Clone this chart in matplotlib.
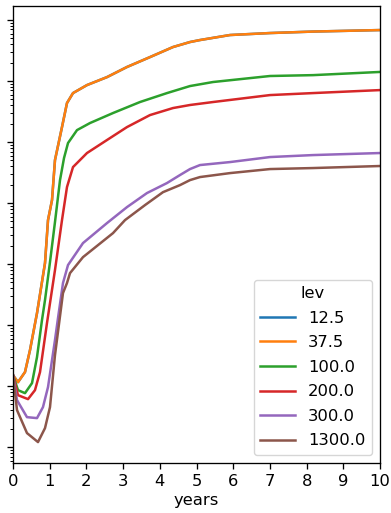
import matplotlib
matplotlib.use("Agg")
import matplotlib.pyplot as plt

# ------------------------------------ Data ----------------------------------
levels = ["12.5", "37.5", "100.0", "200.0", "300.0", "1300.0"]
colors = ["#1f77b4", "#ff7f0e", "#2ca02c", "#d62728", "#9467bd", "#8c564b"]

# years / values (log y axis)
t_top = [0, 0.136, 0.327, 0.463, 0.654, 0.872, 0.954, 1.063, 1.144, 1.335, 1.471,
         1.635, 2.016, 2.561, 3.106, 3.733, 4.36, 4.823, 5.095, 5.913, 7.003, 8.174, 10]
v_125 = [1.51e-6, 1.16e-6, 1.70e-6, 3.89e-6, 1.57e-5, 1.04e-4, 5.26e-4, 1.12e-3, 5.07e-3,
         1.76e-2, 4.36e-2, 6.35e-2, 8.59e-2, 0.116, 0.170, 0.247, 0.361, 0.436, 0.470,
         0.568, 0.612, 0.647, 0.685]
v_375 = [1.51e-6, 1.16e-6, 1.70e-6, 3.89e-6, 1.57e-5, 1.04e-4, 5.26e-4, 1.12e-3, 5.07e-3,
         1.76e-2, 4.36e-2, 6.35e-2, 8.59e-2, 0.116, 0.170, 0.247, 0.361, 0.436, 0.470,
         0.568, 0.612, 0.647, 0.685]

t_100 = [0, 0.136, 0.327, 0.518, 0.654, 0.790, 0.872, 1.008, 1.144, 1.281, 1.390,
         1.499, 1.744, 2.098, 2.725, 3.460, 4.196, 4.823, 5.450, 7.003, 8.174, 10]
v_100 = [1.51e-6, 8.59e-7, 7.67e-7, 1.12e-6, 2.99e-6, 1.21e-5, 2.57e-5, 1.08e-4, 4.89e-4,
         2.38e-3, 5.47e-3, 9.64e-3, 1.57e-2, 2.05e-2, 2.99e-2, 4.53e-2, 6.35e-2, 8.28e-2,
         9.64e-2, 0.121, 0.125, 0.141]

t_200 = [0, 0.136, 0.409, 0.599, 0.736, 0.926, 1.144, 1.335, 1.471, 1.635, 2.016,
         2.561, 3.106, 3.733, 4.36, 4.823, 5.450, 7.003, 8.174, 10]
v_200 = [1.51e-6, 7.11e-7, 6.12e-7, 8.59e-7, 1.70e-6, 1.08e-5, 7.98e-5, 5.26e-4, 1.83e-3,
         3.89e-3, 6.61e-3, 1.08e-2, 1.76e-2, 2.77e-2, 3.61e-2, 4.05e-2, 4.53e-2, 5.89e-2,
         6.35e-2, 7.11e-2]

t_300 = [0, 0.109, 0.381, 0.654, 0.817, 0.954, 1.144, 1.226, 1.362, 1.499, 1.907,
         2.561, 3.106, 3.651, 4.196, 4.550, 4.823, 5.095, 5.913, 7.003, 8.174, 10]
v_300 = [1.51e-6, 5.89e-7, 3.10e-7, 2.99e-7, 4.53e-7, 9.64e-7, 5.68e-6, 1.30e-5, 4.89e-5,
         9.64e-5, 2.21e-4, 4.70e-4, 8.59e-4, 1.46e-3, 2.13e-3, 2.88e-3, 3.61e-3, 4.20e-3,
         4.70e-3, 5.68e-3, 6.12e-3, 6.61e-3]

t_1300 = [0, 0.109, 0.381, 0.681, 0.872, 1.008, 1.144, 1.362, 1.471, 1.553, 1.907,
          2.725, 3.052, 3.597, 4.087, 4.550, 4.823, 5.095, 5.913, 7.003, 8.174, 10]
v_1300 = [1.51e-6, 4.05e-7, 1.70e-7, 1.21e-7, 2.05e-7, 4.53e-7, 3.22e-6, 3.35e-5, 4.89e-5,
          7.11e-5, 1.30e-4, 3.22e-4, 5.26e-4, 9.27e-4, 1.51e-3, 1.97e-3, 2.38e-3, 2.67e-3,
          3.10e-3, 3.61e-3, 3.75e-3, 4.05e-3]

x_ticks = list(range(0, 11))

# ------------------------------------ Plot ----------------------------------
FS = 11.8
fig = plt.figure(figsize=(3.91, 5.13), dpi=100)
ax = fig.add_axes([13 / 391, 1 - 463 / 513, 367 / 391, 457 / 513])

series = [(t_top, v_125), (t_top, v_375), (t_100, v_100),
          (t_200, v_200), (t_300, v_300), (t_1300, v_1300)]
for (t, v), lev, c in zip(series, levels, colors):
    ax.plot(t, v, color=c, lw=1.8, label=lev)

ax.set_yscale("log")
ax.set_xlim(0, 10)
ax.set_ylim(10 ** -7.26, 10 ** 0.23)
ax.set_xticks(x_ticks)
ax.tick_params(labelsize=FS, width=0.95, length=4.1)
ax.tick_params(which="minor", width=0.7, length=2.4)
ax.tick_params(axis="y", which="both", labelleft=False)
for s in ax.spines.values():
    s.set_linewidth(0.95)
ax.set_xlabel("years", fontsize=FS, labelpad=3)

ax.legend(title="lev", loc="lower right", fontsize=FS, title_fontsize=FS,
          handlelength=2.1, labelspacing=0.58)

# red caption of the next panel, mostly cut off by the bottom edge
fig.text(175 / 391, -13 / 513, "Fig. 1: all levels, total flux", color="#c8304a",
         fontsize=FS, va="baseline", ha="left")

fig.savefig("out.png", dpi=100)
